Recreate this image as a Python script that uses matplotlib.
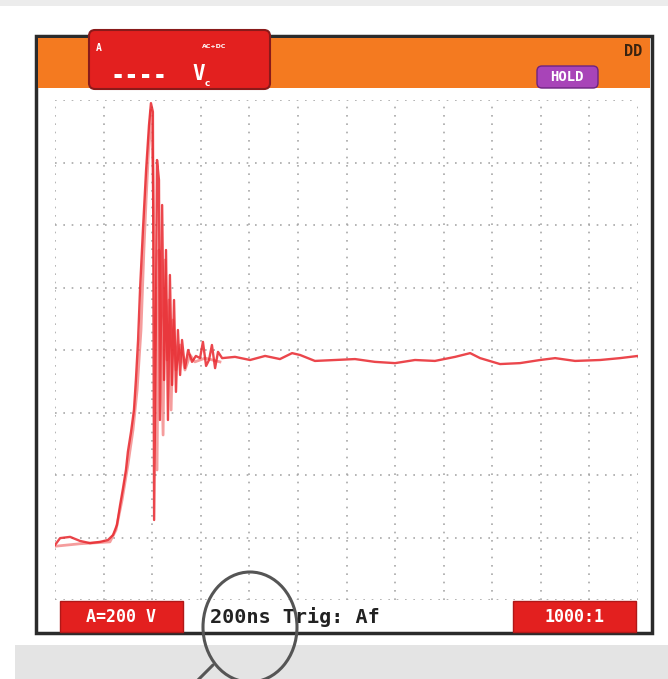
import numpy as np
import matplotlib
matplotlib.use("Agg")
import matplotlib.pyplot as plt
from matplotlib.patches import Rectangle, FancyBboxPatch, Ellipse

# ── scope trace data (time in ns, voltage in V; 200 ns/div, 200 V/div) ──
t_main = [0, 21, 62, 103, 144, 185, 218, 239, 255, 268, 280, 292, 300, 313, 325,
          333, 342, 350, 362, 375, 387, 395, 403, 408, 416, 420, 428, 432, 441,
          449, 457, 465, 473, 482, 490, 498, 506, 515, 523, 535, 548, 564, 580,
          597, 609, 622, 634, 646, 659, 671, 688, 741, 803, 865, 926, 976, 1009,
          1070, 1153, 1235, 1317, 1400, 1482, 1564, 1647, 1709, 1750, 1832, 1914,
          1997, 2059, 2141, 2244, 2326, 2400]
v_main = [-24, -2, 2, -11, -18, -14, -8, 8, 40, 104, 158, 216, 274, 338, 408,
          504, 632, 792, 984, 1176, 1320, 1390, 1362, 56, 760, 1208, 1144, 376, 1064,
          504, 920, 376, 840, 488, 760, 466, 664, 520, 632, 542, 600, 562, 581,
          574, 626, 549, 568, 616, 542, 594, 574, 578, 568, 581, 571, 590, 584,
          565, 568, 571, 562, 558, 568, 565, 578, 590, 574, 555, 558,
          568, 574, 565, 568, 574, 581]

# persistence ghost trace (lighter)
t_ghost = [0, 103, 226, 251, 276, 300, 321, 338, 354, 366, 375, 387, 395, 403,
           412, 420, 428, 436, 445, 453, 461, 469, 478, 486, 498, 515, 535, 556,
           576, 618, 679]
v_ghost = [-28, -20, -14, 24, 120, 232, 344, 472, 664, 920, 1080, 1272, 1368, 1176,
           760, 216, 920, 664, 328, 888, 568, 760, 408, 696, 536, 616, 536, 584,
           562, 574, 562]

ch_label = "A=200 V"
time_label = "200ns Trig: Af"
probe_label = "1000:1"

MONO = "DejaVu Sans Mono"
W, H = 668, 679
fig = plt.figure(figsize=(W / 100, H / 100), dpi=100)

# background / bezel in pixel coordinates
bg = fig.add_axes([0, 0, 1, 1], zorder=0)
bg.set_xlim(0, W); bg.set_ylim(H, 0); bg.axis("off")
bg.add_patch(Rectangle((0, 0), W, 6, color="#ececec", lw=0))
bg.add_patch(Rectangle((15, 645), W - 15, H - 645, color="#e4e4e4", lw=0))
bg.add_patch(Rectangle((36, 36), 616, 597, facecolor="white", edgecolor="#2b2b2b", lw=2.5))
bg.add_patch(Rectangle((38, 38), 612, 50, color="#f47a20", lw=0))
# channel reading box
bg.add_patch(FancyBboxPatch((89, 30), 181, 59, boxstyle="round,pad=0,rounding_size=6",
                            facecolor="#e3201f", edgecolor="#8a1a1a", lw=1.5))
bg.text(96, 48, "A", color="white", fontsize=7, fontweight="bold", va="center", family=MONO)
bg.text(110, 76, "----", color="white", fontsize=17, fontweight="bold", va="center", family=MONO)
bg.text(192, 74, "V", color="white", fontsize=15, fontweight="bold", va="center", family=MONO)
bg.text(202, 46, "AC+DC", color="white", fontsize=4.5, fontweight="bold", va="center")
bg.text(205, 83, "c", color="white", fontsize=6.5, fontweight="bold", va="center")
# HOLD + battery indicator
bg.add_patch(FancyBboxPatch((537, 66), 61, 22, boxstyle="round,pad=0,rounding_size=5",
                            facecolor="#a844b8", edgecolor="#6d2380", lw=1))
bg.text(567, 77, "HOLD", color="white", fontsize=10, fontweight="bold", ha="center", va="center",
        family=MONO)
bg.text(633, 52, "DD", color="#3a2310", fontsize=11, fontweight="bold", ha="center", va="center",
        family=MONO)
# bottom status bar
bg.add_patch(Rectangle((60, 601), 123, 31, facecolor="#e3201f", edgecolor="#b01818", lw=1))
bg.text(121, 617, ch_label, color="white", fontsize=12, fontweight="bold", ha="center", va="center",
        family=MONO)
bg.text(210, 617, time_label, color="#222222", fontsize=14.5, fontweight="bold", va="center",
        family=MONO)
bg.add_patch(Rectangle((513, 601), 123, 31, facecolor="#e3201f", edgecolor="#b01818", lw=1))
bg.text(574, 617, probe_label, color="white", fontsize=12, fontweight="bold", ha="center", va="center",
        family=MONO)

# scope graticule + trace
ax = fig.add_axes([55 / W, (H - 600) / H, 583 / W, 500 / H], zorder=1)
ax.patch.set_alpha(0)
ax.set_xlim(0, 2400); ax.set_ylim(-200, 1400)
ax.set_xticks(np.arange(0, 2401, 200)); ax.set_yticks(np.arange(-200, 1401, 200))
ax.grid(True, color="#a8a8a8", lw=1.2, linestyle=(0, (1, 4)))
ax.tick_params(length=0, labelbottom=False, labelleft=False)
for s in ax.spines.values():
    s.set_visible(False)
ax.plot(t_ghost, v_ghost, color="#f27d7d", lw=2.0, alpha=0.75, zorder=3)
ax.plot(t_main, v_main, color="#e8262c", lw=1.7, alpha=0.85, zorder=4)

# magnifier drawn on top
fg = fig.add_axes([0, 0, 1, 1], zorder=2)
fg.set_xlim(0, W); fg.set_ylim(H, 0); fg.axis("off"); fg.patch.set_alpha(0)
fg.add_patch(Ellipse((250, 627), 94, 110, fill=False, edgecolor="#555555", lw=2.2))
fg.plot([213, 196], [665, 682], color="#555555", lw=2.2, solid_capstyle="round")

plt.savefig("out.png", dpi=100)
